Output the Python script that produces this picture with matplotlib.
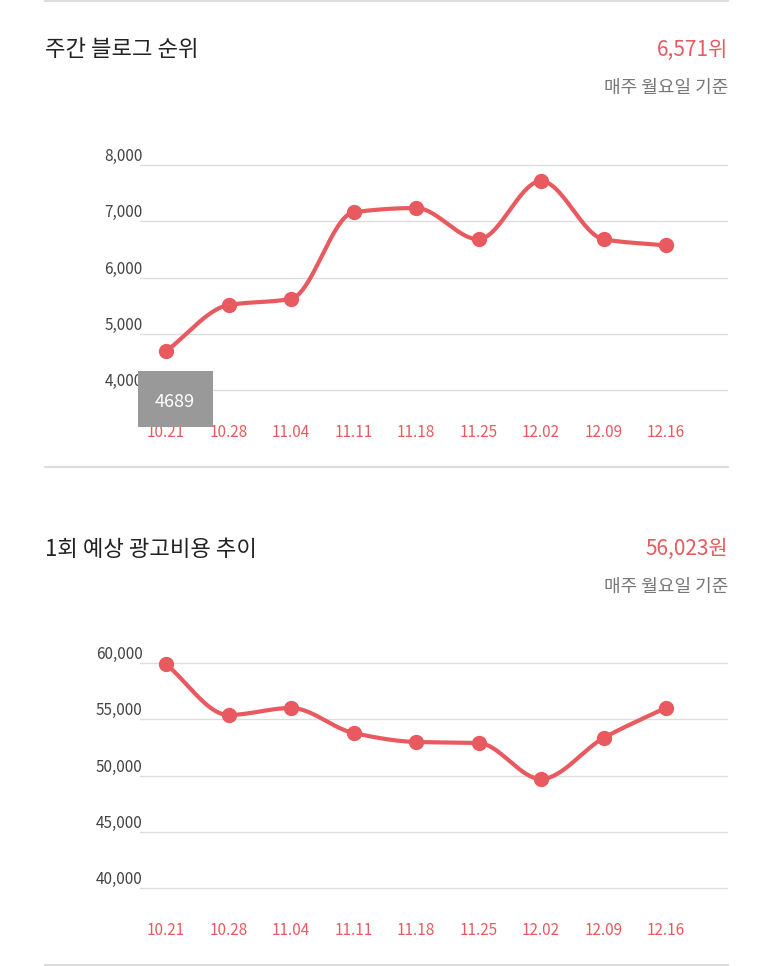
import numpy as np
import matplotlib
matplotlib.use("Agg")
import matplotlib.pyplot as plt
from matplotlib.patches import Rectangle
from matplotlib.lines import Line2D

dates = ["10.21","10.28","11.04","11.11","11.18","11.25","12.02","12.09","12.16"]
rank = [4689, 5510, 5620, 7160, 7235, 6680, 7715, 6680, 6571]
cost = [59900, 55380, 56000, 53780, 52980, 52890, 49690, 53330, 56023]
rank_ticks = [4000, 5000, 6000, 7000, 8000]
cost_ticks = [40000, 45000, 50000, 55000, 60000]

W, H = 773, 966
RED = "#e85a5f"
plt.rcParams["font.family"] = ["Noto Sans CJK JP", "Noto Sans CJK KR", "Noto Sans CJK SC", "DejaVu Sans"]

def monotone(x, y, n=400):
    x = np.asarray(x, float); y = np.asarray(y, float)
    h = np.diff(x); d = np.diff(y) / h
    m = np.zeros(len(x))
    m[0], m[-1] = d[0], d[-1]
    for i in range(1, len(x) - 1):
        if d[i-1] * d[i] <= 0:
            m[i] = 0
        else:
            m[i] = 2 / (1/d[i-1] + 1/d[i])
    xs = np.linspace(x[0], x[-1], n); ys = np.empty_like(xs)
    for j, xv in enumerate(xs):
        i = min(np.searchsorted(x, xv, side="right") - 1, len(x) - 2)
        t = (xv - x[i]) / h[i]
        h00 = 2*t**3 - 3*t**2 + 1; h10 = t**3 - 2*t**2 + t
        h01 = -2*t**3 + 3*t**2; h11 = t**3 - t**2
        ys[j] = h00*y[i] + h10*h[i]*m[i] + h01*y[i+1] + h11*h[i]*m[i+1]
    return xs, ys

fig = plt.figure(figsize=(W/100, H/100), dpi=100)

def px_axes(x0, y0, x1, y1):
    return fig.add_axes([x0/W, 1-y1/H, (x1-x0)/W, (y1-y0)/H])

def chart(top_px, vals, ticks, y_lo_px, y_hi_px, title, value_txt):
    lo, hi = ticks[0], ticks[-1]
    ppu = (y_lo_px - y_hi_px) / (hi - lo)
    ax_top, ax_bot = y_hi_px - 20, y_lo_px + 12
    ax = px_axes(140, ax_top, 728, ax_bot)
    ax.set_ylim(lo - (ax_bot - y_lo_px)/ppu, hi + (y_hi_px - ax_top)/ppu)
    x0 = (166-140)/62.5
    ax.set_xlim(-x0, -x0 + 588/62.5)
    for t in ticks:
        ax.axhline(t, color="#dddddd", lw=1, zorder=0)
    xi = np.arange(len(vals))
    xs, ys = monotone(xi, vals)
    ax.plot(xs, ys, color=RED, lw=3, zorder=2, solid_capstyle="round")
    ax.plot(xi, vals, "o", color=RED, ms=10, zorder=3)
    ax.set_yticks(ticks)
    ax.set_yticklabels([f"{t:,}" for t in ticks], fontsize=11, color="#444444")
    ax.tick_params(axis="y", length=0, pad=-2)
    for lab in ax.get_yticklabels():
        lab.set_verticalalignment("bottom")
    ax.set_xticks(xi)
    ax.set_xticklabels(dates, fontsize=11, color=RED)
    ax.tick_params(axis="x", length=0, pad=16)
    for s in ax.spines.values():
        s.set_visible(False)
    ax.patch.set_alpha(0)
    fig.text(45/W, 1-(top_px)/H, title, fontsize=16, color="#222222", va="center", ha="left")
    fig.text(728/W, 1-(top_px)/H, value_txt, fontsize=15, color=RED, va="center", ha="right")
    fig.text(728/W, 1-(top_px+38)/H, "매주 월요일 기준", fontsize=13, color="#777777", va="center", ha="right")
    return ax

ax1 = chart(50, rank, rank_ticks, 390, 165, "주간 블로그 순위", "6,571위")
ax2 = chart(549, cost, cost_ticks, 888, 663, "1회 예상 광고비용 추이", "56,023원")

fig.patches.append(Rectangle((138/W, 1-427/H), 75/W, 56/H, transform=fig.transFigure,
                             facecolor="#999999", edgecolor="none", zorder=5))
fig.text(175/W, 1-402/H, str(rank[0]), fontsize=13, color="white", ha="center", va="center", zorder=6)

for y in [1, 467, 965]:
    fig.lines.append(Line2D([45/W, 728/W], [1-y/H, 1-y/H], transform=fig.transFigure,
                            color="#dddddd", lw=1.5))

fig.savefig("out.png", dpi=100)
